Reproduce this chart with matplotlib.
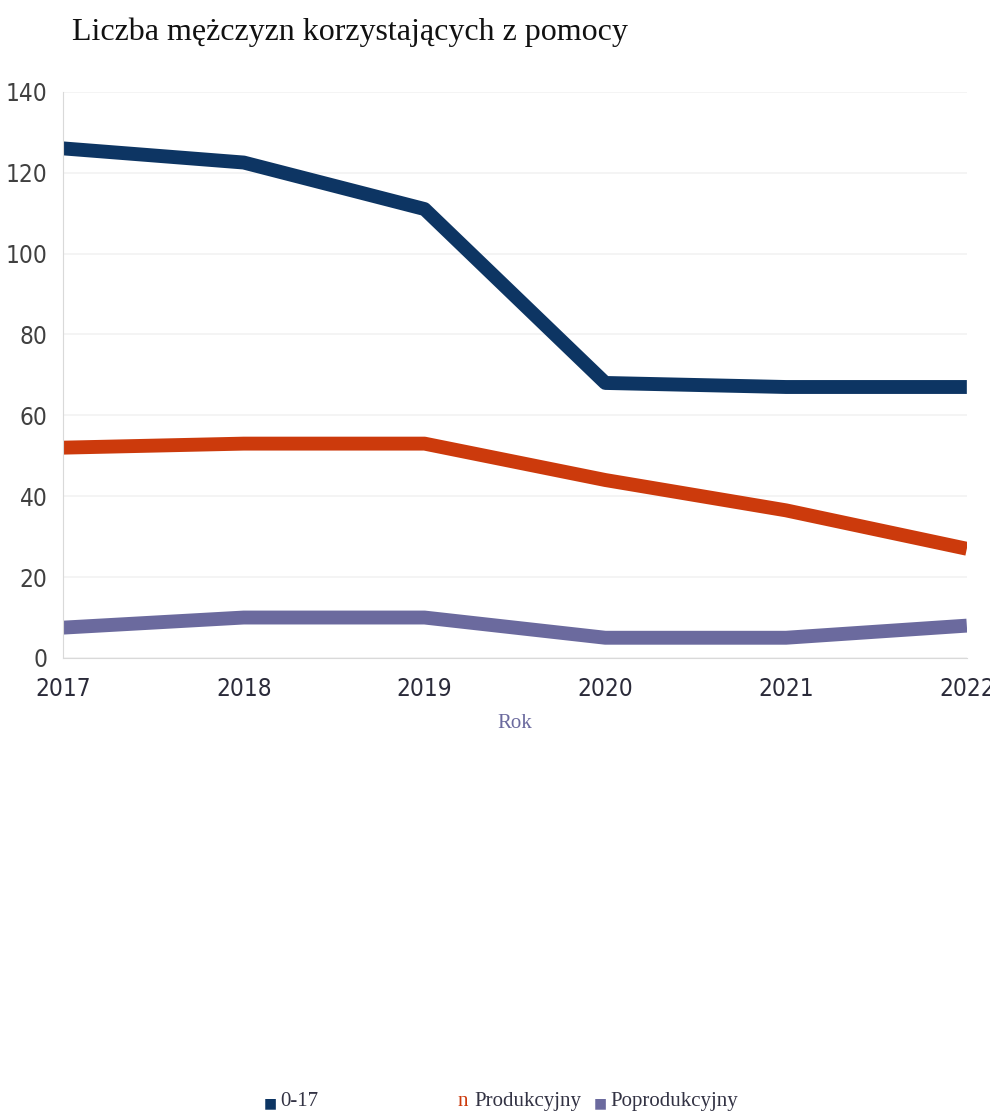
import matplotlib.pyplot as plt

lata = [2017, 2018, 2019, 2020, 2021, 2022]
m_0_17 = [126, 122.5, 111, 68, 67, 67]
m_prod = [52, 53, 53, 44, 36.5, 27]
m_poprod = [7.5, 10, 10, 5, 5, 8]
yticks = [0, 20, 40, 60, 80, 100, 120, 140]

kolory = ['#0d3563', '#cc3a0c', '#6b6a9e']
serif = 'Liberation Serif'

fig = plt.figure(figsize=(9.9, 11.19), dpi=100)
ax = fig.add_axes([0.0636, 0.412, 0.913, 0.506])

ax.plot(lata, m_0_17, color=kolory[0], lw=10, solid_capstyle='butt', solid_joinstyle='round')
ax.plot(lata, m_prod, color=kolory[1], lw=10, solid_capstyle='butt', solid_joinstyle='round')
ax.plot(lata, m_poprod, color=kolory[2], lw=10, solid_capstyle='butt', solid_joinstyle='round')

ax.set_xlim(2017, 2022)
ax.set_ylim(0, 140)
ax.set_yticks(yticks)
ax.set_xticks(lata)
ax.grid(axis='y', color='#f2f2f2', lw=1.2)
ax.set_axisbelow(True)
for s in ['top', 'right']:
    ax.spines[s].set_visible(False)
ax.spines['left'].set_color('#d9d9d9')
ax.spines['bottom'].set_color('#d9d9d9')
ax.tick_params(axis='y', length=0, pad=11)
ax.tick_params(axis='x', length=0, pad=14)
for lab in ax.get_yticklabels():
    lab.set_fontfamily('DejaVu Sans')
    lab.set_fontstretch('condensed')
    lab.set_fontsize(17.5)
    lab.set_color('#404040')
for lab in ax.get_xticklabels():
    lab.set_fontfamily('DejaVu Sans')
    lab.set_fontstretch('condensed')
    lab.set_fontsize(17.5)
    lab.set_color('#2b2b3a')
ax.set_xlabel('Rok', fontfamily=serif, fontsize=15, color='#6b6a9e', labelpad=9)

fig.text(0.073, 0.971, 'Liczba mężczyzn korzystających z pomocy', fontfamily=serif,
         fontsize=23, color='#111111', va='center', ha='left')

# legenda
ly = 0.016
fig.text(0.266, ly - 0.002, '■', color=kolory[0], fontsize=10, va='center', fontfamily='DejaVu Sans')
fig.text(0.283, ly, '0-17', color='#333344', fontsize=15, va='center', fontfamily=serif)
fig.text(0.462, ly, 'n', color=kolory[1], fontsize=15, va='center', fontfamily=serif)
fig.text(0.479, ly, 'Produkcyjny', color='#333344', fontsize=15, va='center', fontfamily=serif)
fig.text(0.600, ly - 0.002, '■', color=kolory[2], fontsize=10, va='center', fontfamily='DejaVu Sans')
fig.text(0.617, ly, 'Poprodukcyjny', color='#333344', fontsize=15, va='center', fontfamily=serif)

fig.savefig('out.png', dpi=100)
